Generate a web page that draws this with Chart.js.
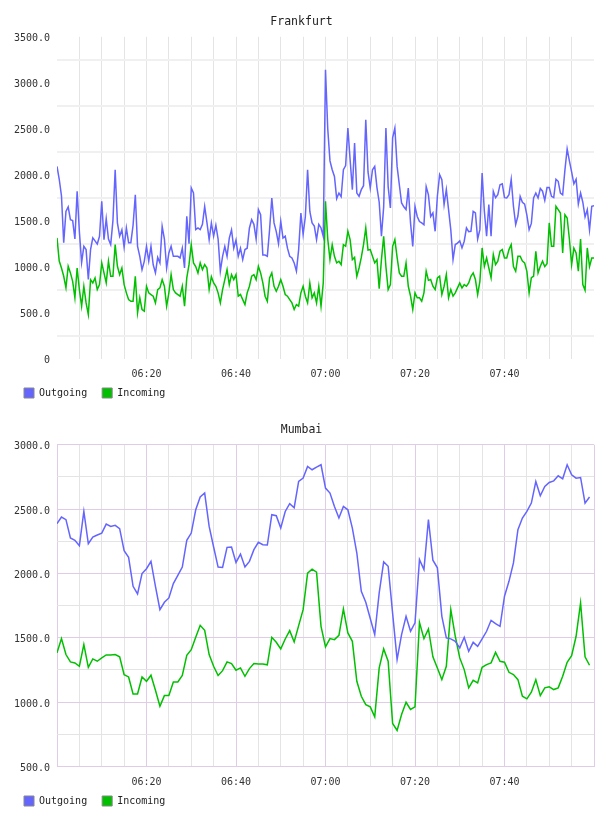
<!DOCTYPE html>
<html>
<head>
<meta charset="utf-8">
<script src="https://cdn.jsdelivr.net/npm/chart.js@4.4.1/dist/chart.umd.min.js"></script>
<style>
  html, body { margin: 0; padding: 0; background: #fff; overflow: hidden; }
  canvas { display: block; }
</style>
</head>
<body>
<canvas id="frankfurt" width="608" height="408"></canvas>
<canvas id="mumbai" width="608" height="408"></canvas>
<script>
// minutes after 06:00 where the x labels sit
const tickMinutes = [20, 40, 60, 80, 100];
const tickLabels = ["06:20", "06:40", "07:00", "07:20", "07:40"];

// Frankfurt, one sample every 30 s from 06:00
const frankStep = 0.5;
const frankOut = [
  2090, 1950, 1770, 1260, 1600, 1650, 1510, 1500, 1300, 1818, 1380, 1043, 1220, 1185, 860, 1185, 1312, 1280, 1245, 1330,
  1710, 1293, 1520, 1300, 1240, 1500, 2054, 1476, 1330, 1400, 1210, 1420, 1260, 1260, 1450, 1782, 1220, 1112, 967, 1057,
  1220, 1060, 1220, 1020, 931, 1100, 1040, 1438, 1300, 985, 1148, 1220, 1112, 1112, 1112, 1094, 1200, 985, 1547, 1250,
  1855, 1800, 1402, 1420, 1402, 1460, 1655, 1480, 1293, 1475, 1330, 1450, 1300, 950, 1112, 1220, 1112, 1310, 1400, 1200,
  1290, 1112, 1200, 1075, 1185, 1200, 1420, 1510, 1460, 1300, 1620, 1565, 1125, 1125, 1112, 1400, 1746, 1475, 1380, 1250,
  1493, 1310, 1330, 1200, 1112, 1094, 1040, 950, 1185, 1583, 1350, 1545, 2054, 1600, 1475, 1440, 1293, 1460, 1420, 1330,
  3141, 2500, 2150, 2054, 1980, 1740, 1800, 1760, 2054, 2100, 2507, 2163, 1837, 2344, 1800, 1765, 1837, 1880, 2598, 2030,
  1855, 2054, 2090, 1860, 1700, 1330, 1650, 2507, 1870, 1637, 2400, 2507, 2090, 1890, 1692, 1650, 1620, 1855, 1475, 1220,
  1655, 1545, 1490, 1475, 1455, 1870, 1780, 1545, 1583, 1384, 1765, 2000, 1946, 1674, 1837, 1620, 1400, 1076, 1240, 1255,
  1280, 1203, 1276, 1420, 1380, 1384, 1600, 1583, 1300, 1402, 2018, 1600, 1330, 1674, 1330, 1819, 1750, 1783, 1891, 1900,
  1750, 1746, 1783, 1950, 1656, 1457, 1550, 1764, 1700, 1680, 1560, 1402, 1470, 1746, 1800, 1746, 1850, 1820, 1720, 1860,
  1860, 1764, 1750, 1950, 1928, 1800, 1780, 2050, 2280, 2150, 2030, 1900, 1950, 1680, 1800, 1700, 1540, 1620, 1400, 1656,
  1663
];
const frankIn = [
  1312, 1060, 985, 895, 770, 1003, 931, 840, 660, 985, 750, 569, 786, 605, 478, 858, 822, 877, 750, 804,
  1040, 931, 822, 1058, 895, 895, 1239, 1003, 913, 985, 804, 714, 641, 623, 623, 895, 497, 660, 533, 515,
  786, 714, 696, 678, 605, 750, 768, 858, 786, 569, 714, 913, 750, 714, 696, 678, 786, 569, 877, 1021,
  1239, 1040, 1000, 931, 1040, 967, 1021, 985, 750, 890, 822, 786, 714, 605, 750, 858, 967, 804, 913, 858,
  913, 678, 696, 641, 587, 714, 786, 895, 913, 858, 1003, 931, 822, 678, 623, 877, 931, 786, 732, 786,
  858, 786, 696, 678, 641, 605, 533, 587, 569, 714, 786, 678, 605, 822, 660, 714, 605, 786, 569, 822,
  1710, 1300, 1076, 1239, 1112, 1040, 1058, 1021, 1239, 1221, 1384, 1293, 1076, 1100, 895, 985, 1100, 1239, 1420, 1180,
  1185, 1112, 1040, 1076, 760, 1076, 1330, 1000, 750, 804, 1221, 1293, 1100, 931, 895, 895, 1040, 786, 680, 533,
  714, 660, 660, 623, 714, 950, 850, 859, 786, 750, 877, 895, 696, 786, 913, 660, 750, 678, 714, 768,
  820, 768, 804, 786, 822, 895, 931, 859, 696, 840, 1203, 1003, 1094, 985, 877, 1130, 1021, 1058, 1167, 1185,
  1094, 1094, 1185, 1239, 1000, 949, 1112, 1112, 1060, 1040, 949, 714, 880, 895, 1167, 931, 1003, 1058, 1000, 1030,
  1475, 1221, 1221, 1656, 1620, 1583, 1148, 1565, 1529, 1300, 1021, 1200, 1148, 949, 1300, 804, 743, 1203, 1000, 1094,
  1094
];

// Mumbai, one sample per minute from 06:00
const mumStep = 1;
const mumOut = [
  2387, 2439, 2418, 2276, 2258, 2216, 2482, 2231, 2283, 2299, 2314, 2384, 2366, 2374, 2348, 2177, 2125, 1900, 1841, 1999,
  2037, 2094, 1900, 1719, 1776, 1810, 1921, 1985, 2050, 2258, 2314, 2495, 2594, 2625, 2366, 2206, 2050, 2047, 2203, 2206,
  2086, 2151, 2050, 2094, 2185, 2242, 2224, 2221, 2457, 2449, 2353, 2482, 2542, 2511, 2715, 2741, 2832, 2806, 2827, 2845,
  2664, 2625, 2521, 2431, 2521, 2495, 2353, 2159, 1861, 1776, 1650, 1525, 1849, 2090, 2056, 1690, 1331, 1525, 1667, 1551,
  1616, 2108, 2030, 2418, 2103, 2044, 1667, 1499, 1492, 1473, 1422, 1504, 1395, 1465, 1434, 1492, 1551, 1636, 1610, 1589,
  1823, 1939, 2082, 2340, 2431, 2482, 2547, 2715, 2604, 2676, 2707, 2720, 2759, 2736, 2845, 2767, 2741, 2746, 2547, 2594
];
const mumIn = [
  1383, 1494, 1370, 1313, 1305, 1279, 1447, 1271, 1336, 1318, 1344, 1367, 1367, 1370, 1352, 1214, 1196, 1064, 1064, 1196,
  1162, 1209, 1092, 968, 1051, 1051, 1157, 1157, 1207, 1364, 1408, 1504, 1597, 1558, 1370, 1279, 1207, 1245, 1313, 1300,
  1248, 1266, 1201, 1261, 1300, 1297, 1297, 1290, 1504, 1465, 1414, 1491, 1556, 1468, 1595, 1719, 2003, 2034, 2011, 1589,
  1429, 1494, 1486, 1519, 1724, 1538, 1473, 1162, 1046, 981, 963, 886, 1266, 1414, 1318, 834, 780, 904, 999, 943,
  963, 1620, 1494, 1569, 1352, 1266, 1175, 1279, 1719, 1512, 1344, 1253, 1111, 1170, 1150, 1271, 1292, 1305, 1387, 1318,
  1310, 1232, 1214, 1175, 1046, 1026, 1077, 1175, 1051, 1111, 1119, 1098, 1111, 1201, 1310, 1362, 1512, 1771, 1352, 1287
];

const seriesNames = ["Outgoing", "Incoming"];
const seriesColors = ["#6464ff", "#00c000"];

const FONT = "'DejaVu Sans Mono', monospace";
const CLEAR = "rgba(0,0,0,0)";
const GRAY = "#e4e4e4";
const PURPLE = "#e0cce6";

function points(values, step) {
  return values.map((v, i) => ({ x: i * step, y: v }));
}

function drawChart(id, title, out, inc, step, yMin, yMax, purple) {
  new Chart(document.getElementById(id), {
    type: "line",
    data: {
      datasets: [out, inc].map((vals, k) => ({
        label: seriesNames[k],
        data: points(vals, step),
        borderColor: seriesColors[k],
        backgroundColor: seriesColors[k],
        borderWidth: 1.5,
        pointRadius: 0,
        tension: 0,
        fill: false,
      })),
    },
    options: {
      responsive: false,
      animation: false,
      layout: { padding: { left: 9, right: 14, top: 0, bottom: 0 } },
      scales: {
        x: {
          type: "linear",
          min: 0,
          max: 120,
          afterFit: (s) => { s.height = 22; },
          border: { display: false },
          grid: {
            drawTicks: false,
            lineWidth: 1,
            color: (c) => {
              const v = c.tick.value;
              if (purple) return v % 20 === 0 ? PURPLE : GRAY;
              return v === 0 || v === 120 ? CLEAR : GRAY;
            },
          },
          ticks: {
            stepSize: 5,
            autoSkip: false,
            maxRotation: 0,
            padding: 10,
            color: "#333",
            font: { family: FONT, size: 10 },
            callback: (v) => {
              const k = tickMinutes.indexOf(v);
              return k >= 0 ? tickLabels[k] : "";
            },
          },
        },
        y: {
          min: yMin,
          max: yMax,
          afterFit: (s) => { s.width = 48; },
          border: { display: false },
          grid: {
            drawTicks: false,
            lineWidth: purple ? 1 : 2,
            color: (c) => {
              const v = c.tick.value;
              if (purple) return v % 500 === 0 ? PURPLE : GRAY;
              return v % 500 === 0 ? CLEAR : "#f0f0f0";
            },
          },
          ticks: {
            stepSize: 250,
            autoSkip: false,
            padding: 7,
            labelOffset: 2,
            color: "#333",
            font: { family: FONT, size: 10 },
            callback: (v) => (v % 500 !== 0 ? "" : v === 0 ? "0" : v.toFixed(1)),
          },
        },
      },
      plugins: {
        title: {
          display: true,
          text: title,
          color: "#222",
          font: { family: FONT, size: 11.5, weight: "normal" },
          padding: { top: 15, bottom: 8 },
        },
        legend: {
          position: "bottom",
          align: "start",
          // empty legend title with negative padding pulls the row up
          title: { display: true, text: "", font: { size: 1 }, padding: { top: -8.7, bottom: 0 } },
          labels: {
            boxWidth: 10,
            boxHeight: 10,
            padding: 15,
            color: "#222",
            font: { family: FONT, size: 10 },
            generateLabels: (chart) =>
              Chart.defaults.plugins.legend.labels.generateLabels(chart).map((l) => ({
                ...l,
                strokeStyle: "#888",
                lineWidth: 1,
              })),
          },
        },
        tooltip: { enabled: false },
      },
    },
  });
}

drawChart("frankfurt", "Frankfurt", frankOut, frankIn, frankStep, 0, 3500, false);
drawChart("mumbai", "Mumbai", mumOut, mumIn, mumStep, 500, 3000, true);
</script>
</body>
</html>
